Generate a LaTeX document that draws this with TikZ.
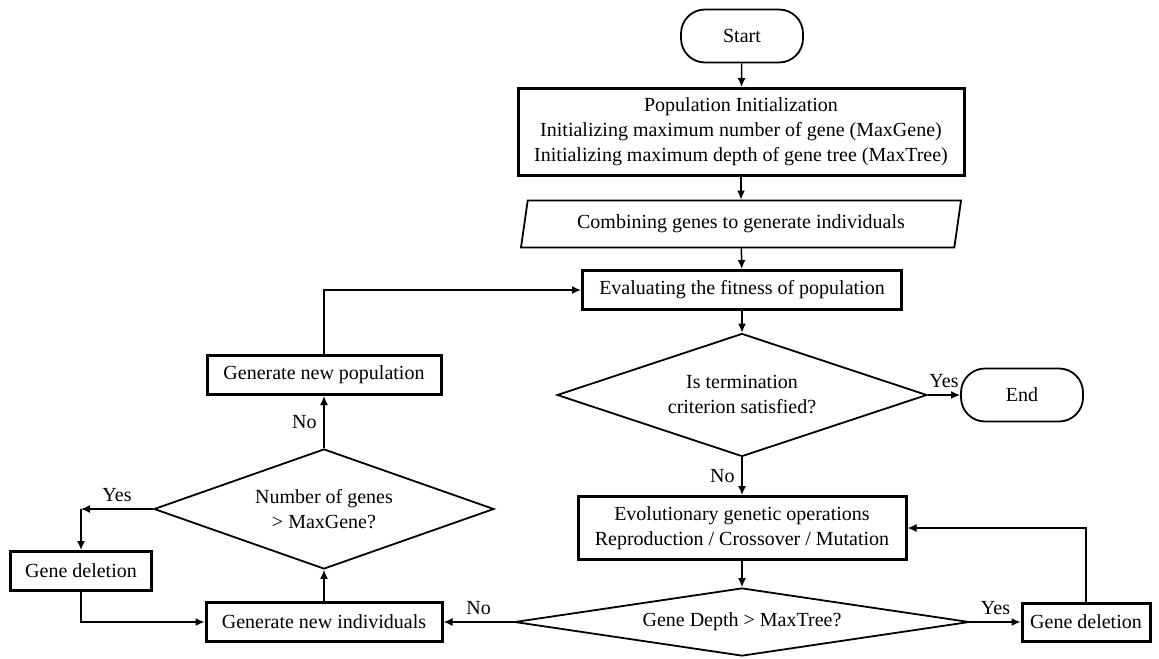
\documentclass[tikz,border=0pt]{standalone}
\usepackage{fontspec}
\setmainfont{Liberation Serif}
\usetikzlibrary{arrows.meta,shapes.geometric}

\begin{document}
\begin{tikzpicture}[x=1pt/2, y=-1pt/2]
    \tikzset{
      every node/.style={font=\fontsize{10}{12.5}\selectfont},
      process/.style={draw, line width=1.5pt, align=center, inner sep=0pt},
      terminal/.style={draw, line width=0.9pt, rounded corners=12pt, inner sep=0pt,
        minimum width=61pt, minimum height=26.5pt},
      decision/.style={draw, line width=0.9pt, diamond, align=center, inner sep=0pt},
      flow/.style={line width=0.75pt, -{Latex[length=4.5pt, width=4pt]}},
    }

    \useasboundingbox (0,0) rectangle (1159,658);

    % main column
    \node[terminal] (start) at (742,36) {Start};
    \node[process, minimum width=223pt, minimum height=43.5pt] (init) at (741,132)
      {Population Initialization\\
       Initializing maximum number of gene (MaxGene)\\
       Initializing maximum depth of gene tree (MaxTree)};
    \node[draw, line width=0.9pt, trapezium, trapezium left angle=78, trapezium right angle=102,
      trapezium stretches body, minimum width=220pt, minimum height=23.5pt] (combine) at (741,224)
      {Combining genes to generate individuals};
    \node[process, minimum width=159.5pt, minimum height=19.5pt] (evaluate) at (742,290)
      {Evaluating the fitness of population};
    \node[decision, aspect=3, minimum width=185pt, minimum height=61.5pt] (terminate) at (742,395)
      {Is termination\\ criterion satisfied?};
    \node[terminal] (stop) at (1022,395) {End};
    \node[process, minimum width=164pt, minimum height=31.5pt] (evolve) at (742,528)
      {Evolutionary genetic operations\\ Reproduction / Crossover / Mutation};
    \node[decision, aspect=6, minimum width=227.5pt, minimum height=34pt] (depth) at (742,622)
      {Gene Depth > MaxTree?};
    \node[process, minimum width=64pt, minimum height=19pt] (delR) at (1086,622) {Gene deletion};

    % left column
    \node[process, minimum width=118pt, minimum height=19.5pt] (newind) at (324,622)
      {Generate new individuals};
    \node[decision, aspect=3, minimum width=170pt, minimum height=60pt] (numgenes) at (324,509)
      {Number of genes\\ > MaxGene?};
    \node[process, minimum width=117pt, minimum height=19.5pt] (newpop) at (324,375)
      {Generate new population};
    \node[process, minimum width=70.5pt, minimum height=19.5pt] (delL) at (81,571) {Gene deletion};
    \coordinate (corner) at (81,509);

    \draw[flow] (start) -- (init);
    \draw[flow] (init) -- (combine);
    \draw[flow] (combine) -- (evaluate);
    \draw[flow] (evaluate) -- (terminate);
    \draw[flow] (terminate) -- node[above] {Yes} (stop);
    \draw[flow] (terminate) -- node[left] {No} (evolve);
    \draw[flow] (evolve) -- (depth);
    \draw[flow] (depth) -- node[above] {Yes} (delR);
    \draw[flow] (delR) |- (evolve);
    \draw[flow] (depth) -- node[above] {No} (newind);
    \draw[flow] (newind) -- (numgenes);
    \draw[flow] (numgenes) -- node[left] {No} (newpop);
    \draw[flow] (newpop) |- (evaluate);
    \draw[flow] (numgenes) -- node[above] {Yes} (corner);
    \draw[flow] (corner) -- (delL);
    \draw[flow] (delL) |- (newind);
\end{tikzpicture}
\end{document}
